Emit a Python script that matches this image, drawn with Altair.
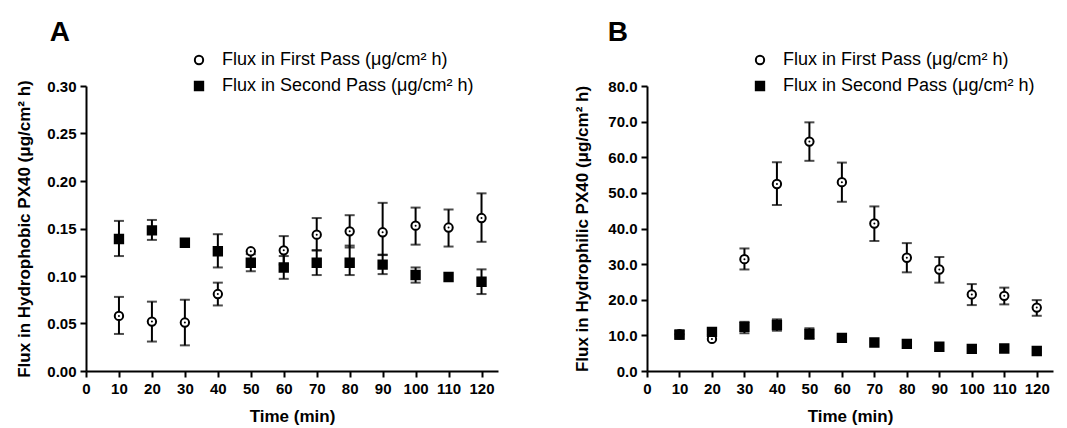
import altair as alt
import pandas as pd
import numpy as np

times = [10, 20, 30, 40, 50, 60, 70, 80, 90, 100, 110, 120]
series_names = ["Flux in First Pass (μg/cm² h)", "Flux in Second Pass (μg/cm² h)"]

# Panel A (hydrophobic)
a_first_mean = [0.058, 0.052, 0.051, 0.081, 0.126, 0.127, 0.1435, 0.147, 0.146, 0.153, 0.151, 0.161]
a_first_lo = [0.039, 0.031, 0.027, 0.069, None, 0.112, 0.127, 0.130, 0.122, 0.133, 0.131, 0.136]
a_first_hi = [0.078, 0.073, 0.075, 0.093, None, 0.142, 0.161, 0.164, 0.177, 0.172, 0.170, 0.187]
a_second_mean = [0.139, 0.148, 0.135, 0.126, 0.114, 0.109, 0.114, 0.114, 0.112, 0.101, 0.099, 0.094]
a_second_lo = [0.121, 0.138, None, 0.109, 0.105, 0.097, 0.101, 0.101, 0.102, 0.093, None, 0.081]
a_second_hi = [0.158, 0.159, None, 0.144, 0.123, 0.121, 0.127, 0.132, 0.1225, 0.109, None, 0.107]

# Panel B (hydrophilic)
b_first_mean = [10.3, 9.0, 31.4, 52.5, 64.4, 53.0, 41.4, 31.8, 28.5, 21.5, 21.1, 17.8]
b_first_lo = [9.5, None, 28.5, 46.6, 59.0, 47.5, 36.5, 27.7, 24.8, 18.5, 18.7, 15.5]
b_first_hi = [11.1, None, 34.4, 58.6, 69.8, 58.5, 46.2, 35.9, 32.0, 24.4, 23.4, 19.9]
b_second_mean = [10.2, 11.0, 12.4, 12.9, 10.4, 9.3, 8.0, 7.6, 6.8, 6.2, 6.3, 5.6]
b_second_lo = [9.0, 10.2, 10.6, 11.3, 9.0, None, None, None, None, None, None, None]
b_second_hi = [11.4, 11.8, 13.8, 14.5, 12.0, None, None, None, None, None, None, None]

x_ticks = [0, 10, 20, 30, 40, 50, 60, 70, 80, 90, 100, 110, 120]
a_yticks = [0.00, 0.05, 0.10, 0.15, 0.20, 0.25, 0.30]
b_yticks = [0, 10, 20, 30, 40, 50, 60, 70, 80]

FONT = "Liberation Sans"


def make_df(fm, fl, fh, sm, sl, sh):
    rows = []
    for i, t in enumerate(times):
        rows.append(dict(time=t, series=series_names[0], mean=fm[i],
                         lo=np.nan if fl[i] is None else fl[i],
                         hi=np.nan if fh[i] is None else fh[i]))
        rows.append(dict(time=t, series=series_names[1], mean=sm[i],
                         lo=np.nan if sl[i] is None else sl[i],
                         hi=np.nan if sh[i] is None else sh[i]))
    return pd.DataFrame(rows)


def panel(df, letter, ytitle, ydomain, yticks, yfmt, width, height, ytp):
    xs = alt.Scale(domain=[0, 125], nice=False, zero=True)
    ys = alt.Scale(domain=ydomain, nice=False)
    xax = alt.Axis(values=x_ticks, title="Time (min)", format="d", titlePadding=12, labelOverlap=False)
    yax = alt.Axis(values=yticks, title=ytitle, format=yfmt, titlePadding=ytp, labelOverlap=False)
    X = lambda f: alt.X(f, scale=xs, axis=xax)
    Y = lambda f: alt.Y(f, scale=ys, axis=yax)
    base = alt.Chart(df)
    err = base.transform_filter("isValid(datum.hi) && isFinite(datum.hi)")
    rules = err.mark_rule(color="black", strokeWidth=2).encode(
        x=X("time:Q"), y=Y("lo:Q"), y2="hi:Q")
    cap_hi = err.mark_tick(orient="horizontal", color="black", size=10, thickness=2).encode(
        x=X("time:Q"), y=Y("hi:Q"))
    cap_lo = err.mark_tick(orient="horizontal", color="black", size=10, thickness=2).encode(
        x=X("time:Q"), y=Y("lo:Q"))
    leg = alt.Legend(title=None, orient="none", legendX=104, legendY=-35,
                     labelFont=FONT, labelFontSize=18, labelColor="black", labelLimit=400,
                     symbolSize=70, symbolStrokeWidth=2, symbolStrokeColor="black",
                     labelOffset=14, rowPadding=8)
    pts = base.mark_point(strokeWidth=2, opacity=1, size=70).encode(
        x=X("time:Q"),
        y=Y("mean:Q"),
        shape=alt.Shape("series:N", scale=alt.Scale(domain=series_names, range=["circle", "square"]),
                        legend=leg),
        fill=alt.Fill("series:N", scale=alt.Scale(domain=series_names, range=["white", "black"]),
                      legend=leg),
        stroke=alt.Stroke("series:N", scale=alt.Scale(domain=series_names, range=["black", "black"]),
                          legend=leg),
    )
    dots = base.transform_filter(alt.datum.series == series_names[0]).mark_circle(
        color="black", size=4, opacity=1).encode(x=X("time:Q"), y=Y("mean:Q"))
    return alt.layer(rules, cap_hi, cap_lo, pts, dots).properties(
        width=width, height=height,
        title=alt.TitleParams(letter, anchor="start", frame="bounds", fontSize=28, font=FONT,
                              fontWeight="bold", color="black", dx=34, offset=4),
    )


dfa = make_df(a_first_mean, a_first_lo, a_first_hi, a_second_mean, a_second_lo, a_second_hi)
dfb = make_df(b_first_mean, b_first_lo, b_first_hi, b_second_mean, b_second_lo, b_second_hi)

pa = panel(dfa, "A", "Flux in Hydrophobic PX40 (μg/cm² h)", [0, 0.30], a_yticks, ".2f", 412, 285, 13)
pb = panel(dfb, "B", "Flux in Hydrophilic PX40 (μg/cm² h)", [0, 80], b_yticks, ".1f", 406, 285, 16)

chart = alt.hconcat(pa, pb, spacing=75).resolve_scale(
    shape="independent", fill="independent", stroke="independent"
).resolve_legend(shape="independent", fill="independent", stroke="independent").configure_view(
    stroke=None
).configure_axis(
    labelFont=FONT, labelFontSize=15, labelFontWeight="bold", labelColor="black",
    titleFont=FONT, titleFontSize=17, titleFontWeight="bold", titleColor="black",
    domainColor="black", domainWidth=2, tickColor="black", tickWidth=2, tickSize=6,
    grid=False, labelPadding=4,
).configure_axisX(labelFlush=False).properties(
    padding={"top": 11, "left": 7, "right": 5, "bottom": 5}
)

chart.save("out.html", embed_options={"renderer": "svg", "actions": False})
